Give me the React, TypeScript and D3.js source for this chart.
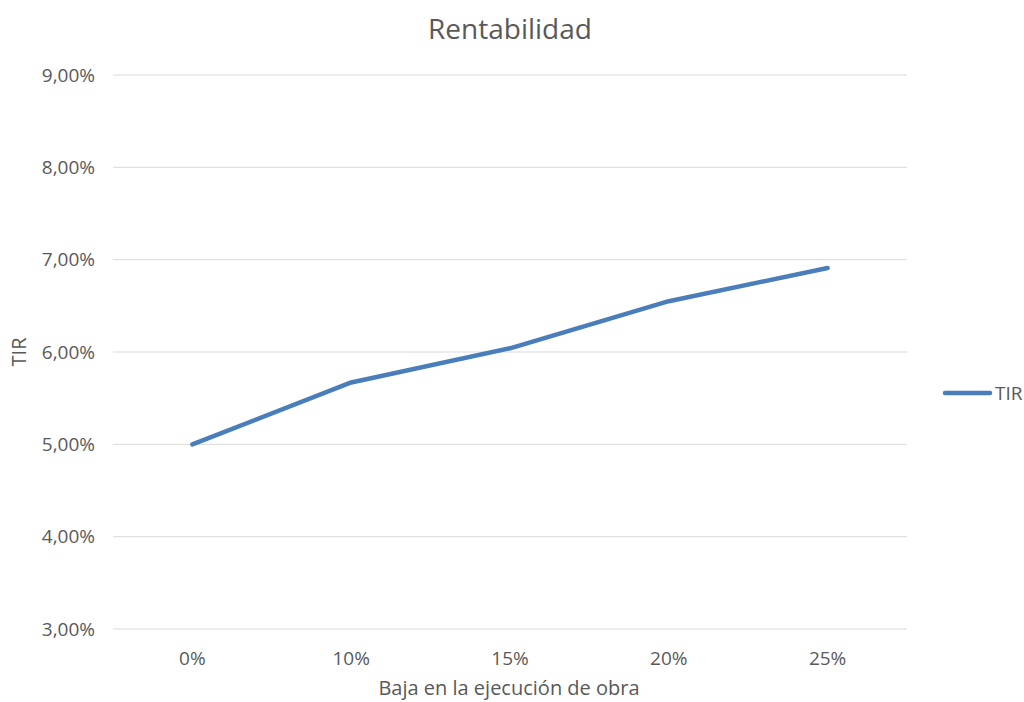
import React from "react";
import * as d3 from "d3";

const categories = ["0%", "10%", "15%", "20%", "25%"];
const tirValues = [0.05, 0.0567, 0.0604, 0.0655, 0.0691];
const yTicks = [0.03, 0.04, 0.05, 0.06, 0.07, 0.08, 0.09];
const seriesName = "TIR";
const chartTitle = "Rentabilidad";
const xTitle = "Baja en la ejecución de obra";
const yTitle = "TIR";

const W = 1024;
const H = 702;
const plot = { left: 113, right: 907, top: 75, bottom: 629 };
const textColor = "#595959";
const lineColor = "#4a7ebb";
const font = "'Open Sans', sans-serif";

export default function App() {
  const x = d3.scaleBand<string>().domain(categories).range([plot.left, plot.right]);
  const y = d3.scaleLinear().domain([0.03, 0.09]).range([plot.bottom, plot.top]);
  const fmt = (v: number) => (v * 100).toFixed(2).replace(".", ",") + "%";
  const line = d3
    .line<number>()
    .x((_, i) => (x(categories[i]) as number) + x.bandwidth() / 2)
    .y((d) => y(d));

  return (
    <svg
      width={W}
      height={H}
      style={{ position: "absolute", left: 0, top: 0, background: "#fff" }}
      fontFamily={font}
    >
      <text x={510} y={39} textAnchor="middle" fontSize={28} fill={textColor}>
        {chartTitle}
      </text>
      {yTicks.map((t) => (
        <g key={t}>
          <line x1={plot.left} x2={plot.right} y1={y(t)} y2={y(t)} stroke="#d9d9d9" strokeWidth={1} />
          <text x={95} y={y(t)} dy="0.35em" textAnchor="end" fontSize={19} fill={textColor}>
            {fmt(t)}
          </text>
        </g>
      ))}
      {categories.map((c) => (
        <text
          key={c}
          x={(x(c) as number) + x.bandwidth() / 2}
          y={658}
          dy="0.35em"
          textAnchor="middle"
          fontSize={19}
          fill={textColor}
        >
          {c}
        </text>
      ))}
      <text x={509} y={688} dy="0.35em" textAnchor="middle" fontSize={20} fill={textColor}>
        {xTitle}
      </text>
      <text
        transform={`translate(19,352) rotate(-90)`}
        textAnchor="middle"
        dy="0.35em"
        fontSize={20}
        fill={textColor}
      >
        {yTitle}
      </text>
      <path d={line(tirValues) || ""} fill="none" stroke={lineColor} strokeWidth={4.5} strokeLinecap="round" strokeLinejoin="round" />
      <line x1={945} x2={990} y1={393} y2={393} stroke={lineColor} strokeWidth={4.5} strokeLinecap="round" />
      <text x={995} y={393} dy="0.35em" fontSize={19} fill={textColor}>
        {seriesName}
      </text>
    </svg>
  );
}
